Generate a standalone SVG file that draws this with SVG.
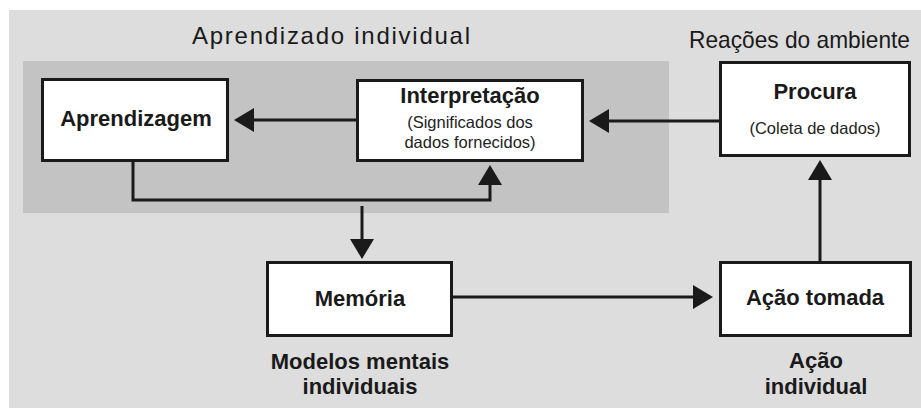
<svg xmlns="http://www.w3.org/2000/svg" width="921" height="408" viewBox="0 0 921 408">
  <style>
    text { font-family: "Liberation Sans", Arial, sans-serif; fill: #1a1a1a; }
    .title { font-size: 24px; }
    .nodeTitle { font-size: 22px; font-weight: bold; text-anchor: middle; }
    .sub { font-size: 16.5px; text-anchor: middle; fill: #222; }
    .caption { font-size: 22px; font-weight: bold; text-anchor: middle; }
    .box { fill: #ffffff; stroke: #1a1a1a; stroke-width: 3; }
    .conn { fill: none; stroke: #1a1a1a; stroke-width: 3; }
  </style>
  <defs>
    <marker id="arrow" markerUnits="userSpaceOnUse" markerWidth="22" markerHeight="26" refX="1" refY="12" orient="auto">
      <path d="M0,0 L20,12 L0,24 Z" fill="#1a1a1a"/>
    </marker>
  </defs>

  <rect x="0" y="0" width="921" height="408" fill="#ffffff"/>
  <rect x="9" y="10" width="912" height="398" fill="#dddddd"/>
  <rect x="23" y="61" width="646" height="152" fill="#c3c3c3"/>

  <text class="title" x="192" y="44" textLength="278" lengthAdjust="spacing">Aprendizado individual</text>
  <text class="title" x="689" y="48" textLength="221" lengthAdjust="spacingAndGlyphs">Reações do ambiente</text>

  <g id="connectors">
    <line class="conn" x1="719" y1="121" x2="608" y2="121" marker-end="url(#arrow)"/>
    <line class="conn" x1="356" y1="120" x2="253" y2="120" marker-end="url(#arrow)"/>
    <path class="conn" d="M133,162 V200 H490 V184" marker-end="url(#arrow)"/>
    <line class="conn" x1="362" y1="206" x2="362" y2="240" marker-end="url(#arrow)"/>
    <line class="conn" x1="453" y1="297" x2="694" y2="297" marker-end="url(#arrow)"/>
    <line class="conn" x1="820" y1="261" x2="820" y2="179" marker-end="url(#arrow)"/>
  </g>

  <g id="aprendizagem">
    <rect class="box" x="42.5" y="79.5" width="185" height="81"/>
    <text class="nodeTitle" x="136" y="126">Aprendizagem</text>
  </g>

  <g id="interpretacao">
    <rect class="box" x="357.5" y="80.5" width="225" height="80"/>
    <text class="nodeTitle" x="470" y="103">Interpretação</text>
    <text class="sub" x="470" y="128">(Significados dos</text>
    <text class="sub" x="470" y="148">dados fornecidos)</text>
  </g>

  <g id="procura">
    <rect class="box" x="720.5" y="62.5" width="189" height="93"/>
    <text class="nodeTitle" x="815" y="99">Procura</text>
    <text class="sub" x="815" y="134">(Coleta de dados)</text>
  </g>

  <g id="memoria">
    <rect class="box" x="267.5" y="262.5" width="184" height="73"/>
    <text class="nodeTitle" x="360" y="306">Memória</text>
    <text class="caption" x="360" y="369">Modelos mentais</text>
    <text class="caption" x="360" y="394">individuais</text>
  </g>

  <g id="acao">
    <rect class="box" x="720.5" y="262.5" width="190" height="73"/>
    <text class="nodeTitle" x="815" y="305">Ação tomada</text>
    <text class="caption" x="816" y="368">Ação</text>
    <text class="caption" x="816" y="394">individual</text>
  </g>
</svg>
